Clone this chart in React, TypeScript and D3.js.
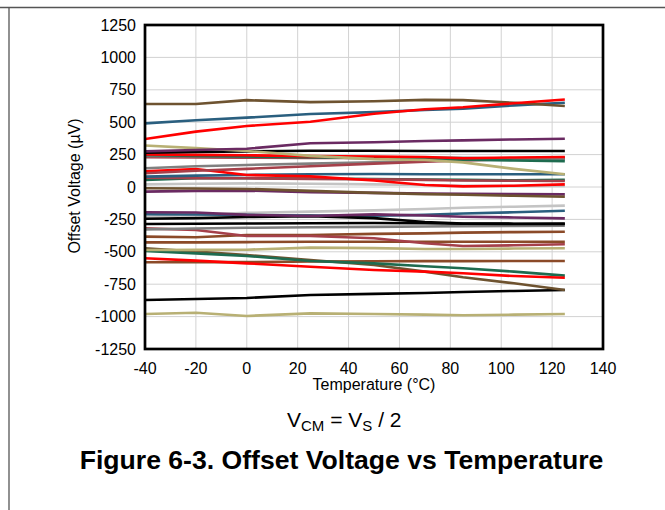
import React from "react";
import * as d3 from "d3";

const temps = [-40, -20, 0, 25, 50, 70, 85, 105, 125];
const xTicks = [-40, -20, 0, 20, 40, 60, 80, 100, 120, 140];
const yTicks = [1250, 1000, 750, 500, 250, 0, -250, -500, -750, -1000, -1250];

const BROWN = "#6e5330";
const BLUE = "#2a5f7f";
const RED = "#ff0000";
const PURPLE = "#6a2a62";
const KHAKI = "#b8b074";
const BLACK = "#000000";
const GREEN = "#1e6b4f";
const GRAY = "#808080";
const LGRAY = "#c4c4c4";
const IRED = "#a5404a";
const SIENNA = "#8b4a28";

const s01 = [640, 640, 670, 655, 662, 672, 670, 650, 625];
const s02 = [491, 515, 535, 563, 578, 594, 605, 630, 650];
const s03 = [370, 427, 471, 504, 565, 600, 615, 646, 675];
const s04 = [275, 285, 295, 337, 345, 355, 360, 367, 372];
const s05 = [320, 300, 278, 240, 215, 208, 190, 140, 98];
const s06 = [265, 270, 275, 280, 280, 278, 278, 278, 278];
const s07 = [248, 240, 235, 230, 222, 215, 210, 205, 200];
const s08 = [252, 248, 245, 238, 235, 232, 222, 228, 232];
const s09 = [240, 238, 236, 235, 232, 228, 225, 220, 215];
const s10 = [230, 228, 226, 225, 224, 222, 220, 222, 225];
const s11 = [145, 160, 170, 180, 190, 200, 210, 215, 222];
const s12 = [106, 125, 140, 160, 180, 195, 205, 215, 225];
const s13 = [121, 139, 93, 82, 50, 15, 5, 10, 20];
const s14 = [80, 88, 93, 98, 100, 98, 98, 98, 98];
const s15 = [72, 68, 67, 62, 60, 55, 50, 48, 46];
const s16 = [54, 68, 68, 65, 62, 58, 55, 52, 55];
const s17 = [20, 25, 28, 25, 20, 15, 10, 8, 8];
const s18 = [-10, -12, -15, -30, -45, -55, -60, -68, -75];
const s19 = [-36, -30, -28, -40, -45, -50, -52, -55, -57];
const s20 = [-195, -197, -215, -224, -211, -220, -229, -235, -242];
const s21 = [-210, -212, -215, -220, -222, -215, -205, -195, -183];
const s22 = [-229, -215, -200, -190, -180, -170, -160, -152, -144];
const s23 = [-285, -283, -282, -280, -278, -280, -283, -285, -285];
const s24 = [-245, -240, -232, -225, -240, -270, -282, -283, -282];
const s25 = [-327, -320, -315, -311, -308, -305, -302, -300, -298];
const s26 = [-319, -332, -378, -378, -396, -434, -455, -450, -442];
const s27 = [-383, -388, -370, -370, -362, -358, -352, -348, -345];
const s28 = [-427, -427, -425, -422, -422, -423, -422, -422, -422];
const s29 = [-486, -485, -484, -468, -472, -478, -478, -475, -473];
const s30 = [-473, -499, -525, -563, -602, -653, -697, -743, -795];
const s31 = [-494, -512, -532, -571, -589, -612, -627, -653, -684];
const s32 = [-550, -568, -589, -615, -640, -653, -666, -687, -700];
const s33 = [-581, -580, -580, -575, -573, -572, -572, -571, -571];
const s34 = [-872, -864, -856, -833, -825, -818, -810, -802, -795];
const s35 = [-980, -970, -995, -975, -980, -985, -990, -985, -980];

const series: { v: number[]; c: string }[] = [
  { v: s35, c: KHAKI },
  { v: s34, c: BLACK },
  { v: s33, c: SIENNA },
  { v: s30, c: BROWN },
  { v: s31, c: GREEN },
  { v: s32, c: RED },
  { v: s29, c: KHAKI },
  { v: s28, c: SIENNA },
  { v: s27, c: SIENNA },
  { v: s26, c: IRED },
  { v: s25, c: GRAY },
  { v: s22, c: LGRAY },
  { v: s21, c: BLUE },
  { v: s23, c: BLACK },
  { v: s24, c: BLACK },
  { v: s20, c: PURPLE },
  { v: s19, c: PURPLE },
  { v: s18, c: BROWN },
  { v: s17, c: LGRAY },
  { v: s16, c: GREEN },
  { v: s15, c: IRED },
  { v: s14, c: BLUE },
  { v: s13, c: RED },
  { v: s11, c: GRAY },
  { v: s12, c: IRED },
  { v: s10, c: IRED },
  { v: s09, c: GRAY },
  { v: s07, c: GREEN },
  { v: s08, c: RED },
  { v: s06, c: BLACK },
  { v: s05, c: KHAKI },
  { v: s04, c: PURPLE },
  { v: s02, c: BLUE },
  { v: s01, c: BROWN },
  { v: s03, c: RED },
];

const FONT = "'Liberation Sans', Arial, sans-serif";

export default function App() {
  const left = 145, right = 603, top = 25, bottom = 349;
  const x = d3.scaleLinear().domain([-40, 140]).range([left, right]);
  const y = d3.scaleLinear().domain([-1250, 1250]).range([bottom, top]);
  const line = d3
    .line<number>()
    .x((_, i) => x(temps[i]))
    .y((d) => y(d));

  return (
    <svg
      width={665}
      height={510}
      style={{ position: "absolute", left: 0, top: 0, background: "#fff" }}
      fontFamily={FONT}
    >
      <rect x={0} y={0} width={665} height={510} fill="#fff" />
      <line x1={0} x2={665} y1={7.5} y2={7.5} stroke="#555" strokeWidth={1.3} />
      <line x1={9} x2={9} y1={7} y2={510} stroke="#555" strokeWidth={1.3} />

      <defs>
        <clipPath id="plotClip">
          <rect x={left} y={top} width={right - left} height={bottom - top} />
        </clipPath>
      </defs>

      {xTicks.slice(1, -1).map((t) => (
        <line key={"gx" + t} x1={x(t)} x2={x(t)} y1={top} y2={bottom} stroke="#d2d2d2" strokeWidth={1} />
      ))}
      {yTicks.slice(1, -1).map((t) => (
        <line key={"gy" + t} x1={left} x2={right} y1={y(t)} y2={y(t)} stroke="#d2d2d2" strokeWidth={1} />
      ))}

      <g clipPath="url(#plotClip)">
        {series.map((s, i) => (
          <path key={i} d={line(s.v) || ""} fill="none" stroke={s.c} strokeWidth={2.6} strokeLinejoin="round" />
        ))}
      </g>

      <rect x={left} y={top} width={right - left} height={bottom - top} fill="none" stroke="#000" strokeWidth={2.7} />

      {yTicks.map((t) => (
        <text key={"ty" + t} x={136} y={y(t)} dy="0.35em" textAnchor="end" fontSize={16} fill="#000">
          {t}
        </text>
      ))}
      {xTicks.map((t) => (
        <text key={"tx" + t} x={x(t)} y={374} textAnchor="middle" fontSize={16} fill="#000">
          {t}
        </text>
      ))}

      <text x={374} y={390} textAnchor="middle" fontSize={16} fill="#000">
        Temperature (°C)
      </text>
      <text
        transform={`translate(80, 186) rotate(-90)`}
        textAnchor="middle"
        fontSize={16}
        fill="#000"
      >
        Offset Voltage (µV)
      </text>

      <text x={287} y={427} fontSize={21} fill="#000">
        V<tspan fontSize={15} dy={4}>CM</tspan>
        <tspan dy={-4}> = V</tspan>
        <tspan fontSize={15} dy={4}>S</tspan>
        <tspan dy={-4}> / 2</tspan>
      </text>

      <text x={341.5} y={469} textAnchor="middle" fontSize={26.6} fontWeight="bold" fill="#000">
        Figure 6-3. Offset Voltage vs Temperature
      </text>
    </svg>
  );
}
